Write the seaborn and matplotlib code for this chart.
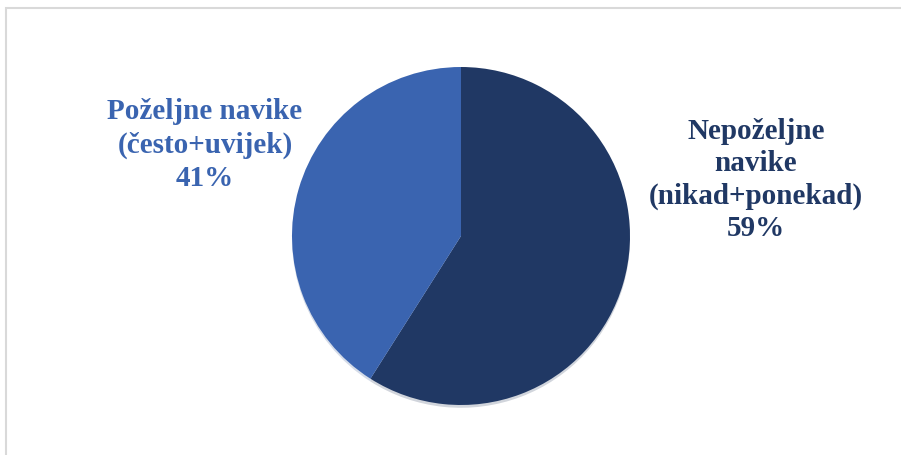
import matplotlib.pyplot as plt
import matplotlib.patches as mpatches
import seaborn as sns

# data
labels = ['Nepoželjne\nnavike\n(nikad+ponekad)', 'Poželjne navike\n(često+uvijek)']
values = [59, 41]
colors = ['#203864', '#3a64b0']

sns.set_theme(style='white')
plt.rcParams['font.family'] = ['Liberation Serif', 'DejaVu Serif']

fig = plt.figure(figsize=(9.01, 4.55), dpi=100)
ax = fig.add_axes([0, 0, 1, 1])

# chart area border
ax.add_patch(mpatches.Rectangle((5.5, -10), 910, 457, fill=False,
                                edgecolor='#d9d9d9', lw=1.5))

ax.pie(values, colors=colors, startangle=90, counterclock=False,
       center=(461, 219), radius=169, frame=True,
       wedgeprops=dict(linewidth=0),
       shadow=dict(ox=0, oy=-2, shade=0.2, alpha=0.2))
ax.set_xlim(0, 901)
ax.set_ylim(0, 455)
ax.set_aspect('equal')
ax.axis('off')

ax.text(756, 275, f'{labels[0]}\n{values[0]}%', ha='center', va='center',
        fontsize=21, fontweight='bold', color=colors[0], linespacing=1.24)
ax.text(205, 310, f'{labels[1]}\n{values[1]}%', ha='center', va='center',
        fontsize=21, fontweight='bold', color=colors[1], linespacing=1.3)

fig.savefig('out.png', dpi=100)
